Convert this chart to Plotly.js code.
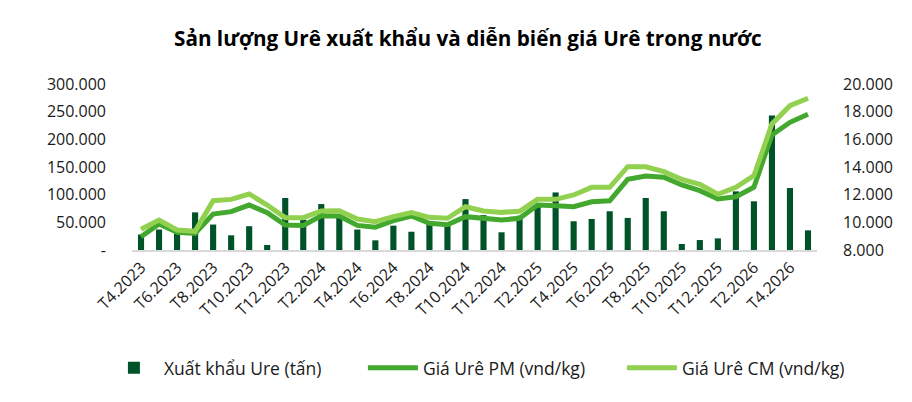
<!DOCTYPE html>
<html>
<head>
<meta charset="utf-8">
<script src="https://cdn.plot.ly/plotly-3.0.1.min.js"></script>
<style>
  html, body { margin: 0; padding: 0; background: #fff; }
  #chart { width: 912px; height: 402px; }
</style>
</head>
<body>
<div id="chart"></div>
<script>
const months = [
  'T4.2023', 'T5.2023', 'T6.2023', 'T7.2023', 'T8.2023', 'T9.2023', 'T10.2023', 'T11.2023', 'T12.2023',
  'T1.2024', 'T2.2024', 'T3.2024', 'T4.2024', 'T5.2024', 'T6.2024', 'T7.2024', 'T8.2024', 'T9.2024',
  'T10.2024', 'T11.2024', 'T12.2024', 'T1.2025', 'T2.2025', 'T3.2025', 'T4.2025', 'T5.2025', 'T6.2025',
  'T7.2025', 'T8.2025', 'T9.2025', 'T10.2025', 'T11.2025', 'T12.2025', 'T1.2026', 'T2.2026', 'T3.2026',
  'T4.2026', 'T5.2026'
];

// xuat khau (tan)
const exportTons = [
  28000, 37000, 31000, 68000, 46000, 26500, 43000, 9000, 94000,
  55000, 83000, 60000, 37000, 17500, 44000, 33000, 48000, 45000,
  92000, 63000, 32000, 62000, 78000, 104000, 52000, 56000, 70000,
  58000, 94000, 70000, 10800, 18000, 21000, 106000, 88000, 243000,
  112000, 35500
];

// gia Ure PM (vnd/kg)
const pricePM = [
  8960, 9880, 9280, 9200, 10600, 10770, 11250, 10700, 9800,
  9780, 10480, 10460, 9780, 9640, 10120, 10460, 9930, 9830,
  10410, 10290, 10170, 10290, 11250, 11200, 11130, 11490, 11560,
  13110, 13350, 13260, 12700, 12290, 11690, 11850, 12530, 16310,
  17230, 17810
];

// gia Ure CM (vnd/kg)
const priceCM = [
  9500, 10170, 9450, 9350, 11560, 11660, 12050, 11250, 10340,
  10340, 10820, 10840, 10240, 10050, 10410, 10700, 10360, 10290,
  11130, 10820, 10720, 10800, 11660, 11660, 11980, 12530, 12530,
  14020, 14020, 13660, 13110, 12750, 12030, 12530, 13370, 17110,
  18430, 18970
];

const leftTicks = [0, 50000, 100000, 150000, 200000, 250000, 300000];
const leftTickText = ['-', '50.000', '100.000', '150.000', '200.000', '250.000', '300.000'];

const font = 'Open Sans, Noto Sans, sans-serif';

const data = [
  {
    x: months,
    y: exportTons,
    type: 'bar',
    name: 'Xuất khẩu Ure (tấn)',
    marker: {color: '#005229'},
    hoverinfo: 'skip'
  },
  {
    x: months,
    y: pricePM,
    type: 'scatter',
    mode: 'lines',
    yaxis: 'y2',
    name: 'Giá Urê PM (vnd/kg)',
    line: {color: '#43A82E', width: 5},
    hoverinfo: 'skip'
  },
  {
    x: months,
    y: priceCM,
    type: 'scatter',
    mode: 'lines',
    yaxis: 'y2',
    name: 'Giá Urê CM (vnd/kg)',
    line: {color: '#92D050', width: 5},
    hoverinfo: 'skip'
  }
];

const layout = {
  width: 912,
  height: 402,
  paper_bgcolor: '#ffffff',
  plot_bgcolor: '#ffffff',
  separators: ',.',
  font: {family: font, size: 15, color: '#1a1a1a'},
  margin: {l: 132, r: 95, t: 84, b: 152},
  title: {
    text: '<b>Sản lượng Urê xuất khẩu và diễn biến giá Urê trong nước</b>',
    font: {family: font, size: 20.7, color: '#000000'},
    x: 0.513,
    xanchor: 'center',
    y: 0.903,
    yanchor: 'middle'
  },
  bargap: 0.66,
  showlegend: true,
  legend: {
    orientation: 'h',
    x: -0.041,
    xanchor: 'left',
    y: -0.71,
    yanchor: 'middle',
    font: {family: font, size: 17.5, color: '#1a1a1a'},
    itemwidth: 50,
    entrywidth: 194,
    traceorder: 'normal'
  },
  xaxis: {
    type: 'category',
    tickmode: 'array',
    tickvals: months.filter((m, i) => i % 2 === 0),
    tickangle: -45,
    showline: true,
    linecolor: '#d9d9d9',
    linewidth: 2,
    showgrid: false,
    ticks: '',
    tickfont: {family: font, size: 16, color: '#1a1a1a'}
  },
  yaxis: {
    range: [0, 300000],
    tickmode: 'array',
    tickvals: leftTicks,
    ticktext: leftTickText,
    showgrid: false,
    zeroline: false,
    ticks: '',
    ticklabelstandoff: 25,
    tickfont: {family: font, size: 16, color: '#1a1a1a'}
  },
  yaxis2: {
    overlaying: 'y',
    side: 'right',
    range: [8000, 20000],
    dtick: 2000,
    tickformat: ',d',
    showgrid: false,
    zeroline: false,
    ticks: '',
    ticklabelstandoff: 25,
    tickfont: {family: font, size: 16, color: '#1a1a1a'}
  }
};

Plotly.newPlot('chart', data, layout, {displayModeBar: false, staticPlot: true});
</script>
</body>
</html>
